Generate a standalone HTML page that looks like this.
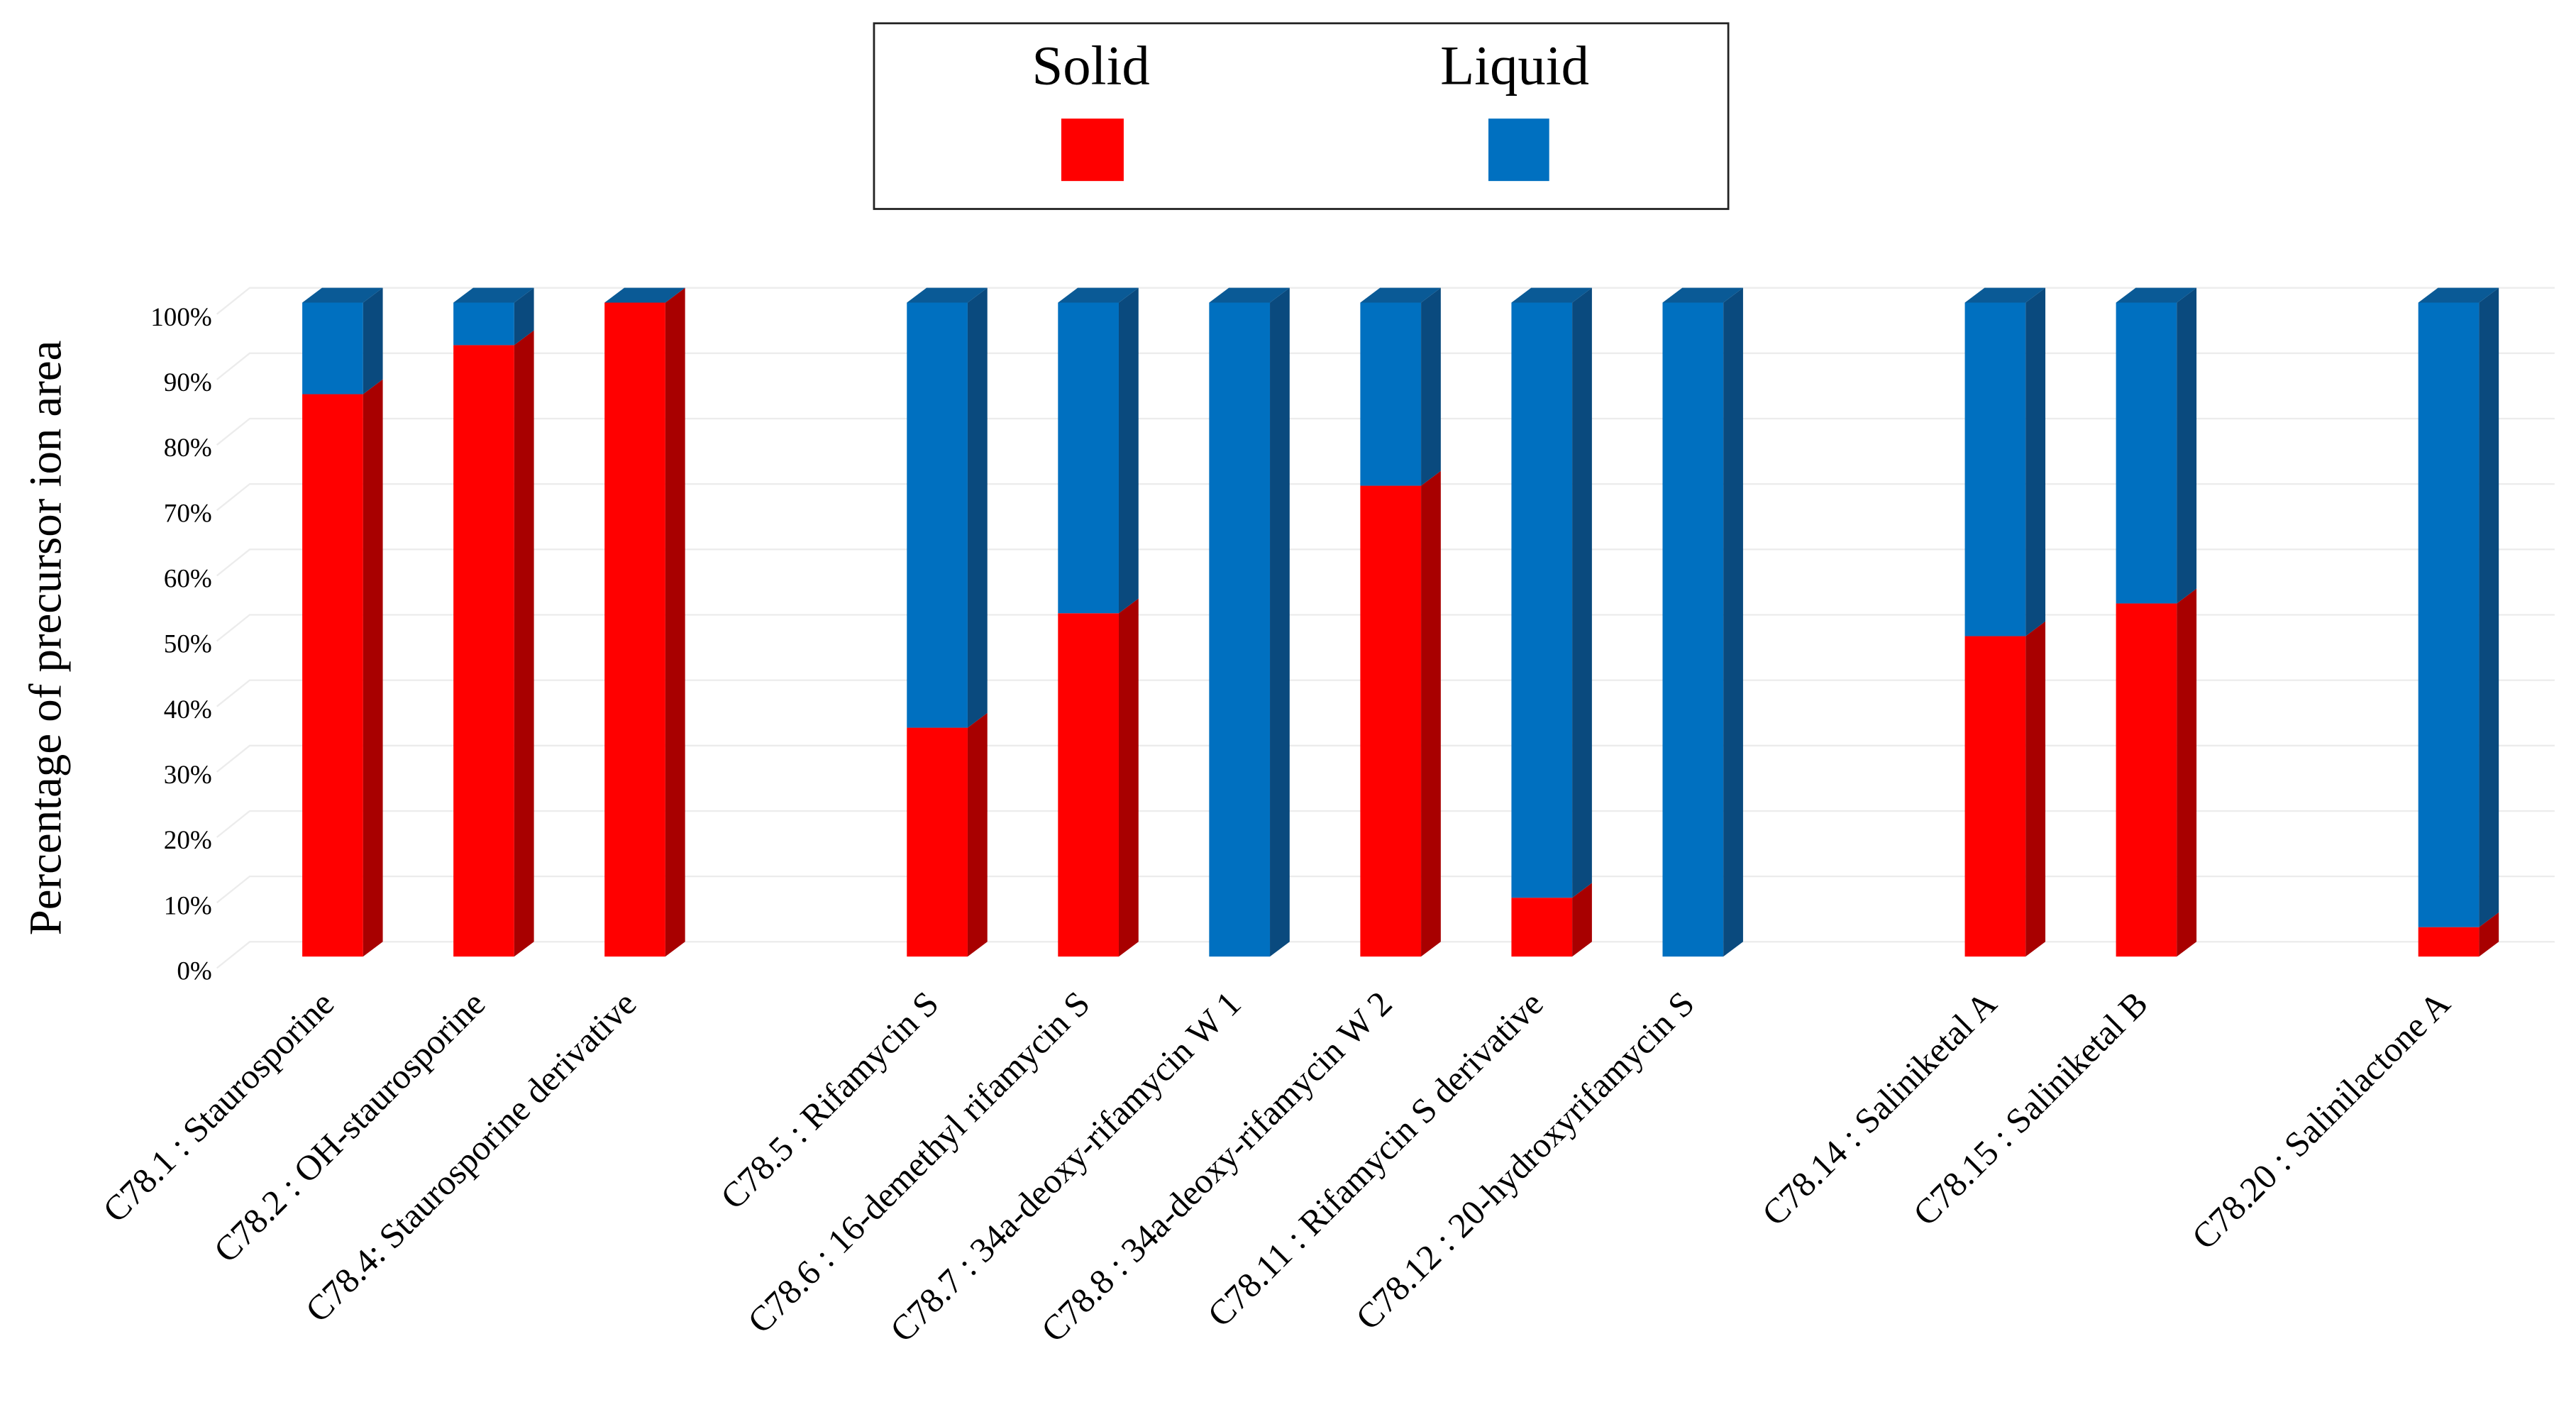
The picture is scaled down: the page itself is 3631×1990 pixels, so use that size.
<!DOCTYPE html>
<html><head><meta charset="utf-8"><style>
html,body{margin:0;padding:0;background:#fff;}
svg{display:block;}
text{font-family:"Liberation Serif",serif;fill:#000;}
</style></head><body>
<svg id="chart" width="3631" height="1990" viewBox="0 0 1568 859" xmlns="http://www.w3.org/2000/svg">
<g>
<rect x="532" y="14" width="520" height="113" fill="#fff" stroke="#222" stroke-width="1.2"/>
<text x="664" y="51" font-size="34" text-anchor="middle">Solid</text>
<rect x="646" y="72" width="38" height="38" fill="#ff0000"/>
<text x="922" y="51" font-size="34" text-anchor="middle">Liquid</text>
<rect x="906" y="72" width="37" height="38" fill="#0070c0"/>
</g>
<text transform="translate(37,388) rotate(-90)" font-size="28" text-anchor="middle">Percentage of precursor ion area</text>
<g id="grid"></g>
<g id="yticks"></g>
<g id="bars"></g>
<g id="xlabels"></g>
</svg>
<script>
const categories = ["C78.1 : Staurosporine","C78.2 : OH-staurosporine","C78.4: Staurosporine derivative","","C78.5 : Rifamycin S","C78.6 : 16-demethyl rifamycin S","C78.7 : 34a-deoxy-rifamycin W 1","C78.8 : 34a-deoxy-rifamycin W 2","C78.11 : Rifamycin S derivative","C78.12 : 20-hydroxyrifamycin S","","C78.14 : Saliniketal A","C78.15 : Saliniketal B","","C78.20 : Salinilactone A"];
const solidValues = [86,93.5,100,null,35,52.5,0,72,9,0,null,49,54,null,4.5];
const liquidValues = [14,6.5,0,null,65,47.5,100,28,91,100,null,51,46,null,95.5];
const tickValues = [0,10,20,30,40,50,60,70,80,90,100];
const tickLabels = ["0%","10%","20%","30%","40%","50%","60%","70%","80%","90%","100%"];

const NS="http://www.w3.org/2000/svg";
const y0=582, y1=184, x0=184, slot=92, bw=37, dx=12, dy=9;
function yScale(v){return y0-(y0-y1)*v/100;}
function xScale(i){return x0+slot*i;}
function mk(tag,attrs,parent){const e=document.createElementNS(NS,tag);for(const k in attrs)e.setAttribute(k,attrs[k]);parent.appendChild(e);return e;}
const grid=document.getElementById('grid'), yt=document.getElementById('yticks'), bars=document.getElementById('bars'), xl=document.getElementById('xlabels');

tickValues.forEach((v,i)=>{
  const y=yScale(v);
  const g=mk('polyline',{points:`132,${y+7} ${152},${y-dy} 1555,${y-dy}`,fill:'none',stroke:'#ececec','stroke-width':1},grid);
  
  
  const t=mk('text',{x:129,y:y+14,'font-size':16,'text-anchor':'end'},yt);
  t.textContent=tickLabels[i];
  
  
});

function drawSeg(x,vFrom,vTo,front,side,name){
  if(vTo-vFrom<=0)return;
  const yb=yScale(vFrom), ytp=yScale(vTo);
  const f=mk('rect',{x:x,y:ytp,width:bw,height:yb-ytp,fill:front},bars);
  
  
  const s=mk('polygon',{points:`${x+bw},${yb} ${x+bw+dx},${yb-dy} ${x+bw+dx},${ytp-dy} ${x+bw},${ytp}`,fill:side},bars);
  
  
}
categories.forEach((c,i)=>{
  if(solidValues[i]===null)return;
  const x=xScale(i), s=solidValues[i], l=liquidValues[i];
  drawSeg(x,0,s,'#ff0000','#a80000','bar-solid');
  drawSeg(x,s,s+l,'#0070c0','#0a4a7e','bar-liquid');
  const ytp=yScale(s+l);
  const tp=mk('polygon',{points:`${x},${ytp} ${x+dx},${ytp-dy} ${x+bw+dx},${ytp-dy} ${x+bw},${ytp}`,fill:'#0a5a96'},bars);
  
  
  const t=mk('text',{'font-size':21.5,'text-anchor':'end',transform:`translate(${x+bw/2+2},${y0+30}) rotate(-45)`},xl);
  t.textContent=c;
  
  
});
</script>
</body></html>
